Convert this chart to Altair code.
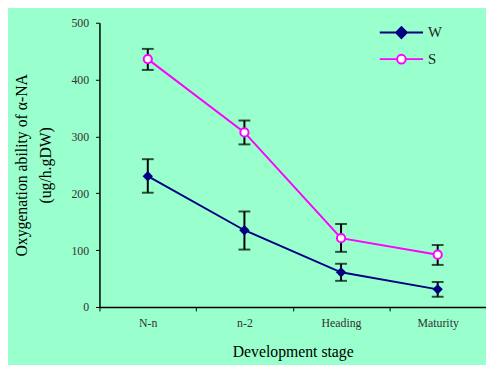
import altair as alt
import pandas as pd

stages = ["N-n", "n-2", "Heading", "Maturity"]
series_names = ["W", "S"]
w_mean = [230, 135, 61, 31]
w_low = [201, 101, 46, 18]
w_high = [260, 168, 76, 44]
s_mean = [436, 307, 121, 92]
s_low = [417, 286, 97, 74]
s_high = [454, 328, 146, 109]

rows = []
for i, st in enumerate(stages):
    rows.append({"stage": st, "series": "W", "mean": w_mean[i], "low": w_low[i], "high": w_high[i]})
    rows.append({"stage": st, "series": "S", "mean": s_mean[i], "low": s_low[i], "high": s_high[i]})
df = pd.DataFrame(rows)

NAVY = "#000080"
MAG = "#FF00FF"
FONT = "Liberation Serif"

xenc = alt.X(
    "stage:N",
    sort=stages,
    scale=alt.Scale(type="band", domain=stages, paddingInner=0, paddingOuter=0),
    axis=alt.Axis(
        title="Development stage",
        titleFont=FONT, titleFontSize=16, titleFontWeight="normal", titleColor="black",
        titlePadding=15,
        labelAngle=0, labelFont=FONT, labelFontSize=12, labelColor="#333333",
        labelPadding=7, tickBand="extent", tickSize=4, tickColor="black",
        domainColor="black", domainWidth=1.5, grid=False,
    ),
)
yscale = alt.Scale(domain=[0, 500], nice=False)
yaxis = alt.Axis(
    title=["Oxygenation ability of α-NA", "(ug/h.gDW)"],
    titleFont=FONT, titleFontSize=16, titleFontWeight="normal", titleColor="black",
    titleLineHeight=24, titlePadding=18,
    values=[0, 100, 200, 300, 400, 500],
    labelFont=FONT, labelFontSize=12, labelColor="#333333", labelPadding=7,
    tickSize=4, tickColor="black", domainColor="black", domainWidth=1.5, grid=False,
)

base = alt.Chart(df)

err = base.mark_rule(color="black", strokeWidth=2).encode(
    x=xenc, y=alt.Y("low:Q", scale=yscale, axis=yaxis), y2="high:Q"
)
cap_lo = base.mark_tick(color="black", size=12, thickness=2).encode(x=xenc, y="low:Q")
cap_hi = base.mark_tick(color="black", size=12, thickness=2).encode(x=xenc, y="high:Q")

line_w = base.transform_filter(alt.datum.series == "W").mark_line(color=NAVY, strokeWidth=2).encode(x=xenc, y="mean:Q")
line_s = base.transform_filter(alt.datum.series == "S").mark_line(color=MAG, strokeWidth=2).encode(x=xenc, y="mean:Q")
pt_w = base.transform_filter(alt.datum.series == "W").mark_point(
    shape="diamond", filled=True, color=NAVY, size=110, opacity=1
).encode(x=xenc, y="mean:Q")
pt_s = base.transform_filter(alt.datum.series == "S").mark_point(
    shape="circle", fill="white", stroke=MAG, strokeWidth=2, size=70, opacity=1
).encode(x=xenc, y="mean:Q")

diamond_path = "M-2,0L-0.5,0M0.5,0L2,0M-0.5,0L0,-0.5L0.5,0L0,0.5Z"
circle_path = "M-2,0L-0.4,0M0.4,0L2,0M-0.4,0A0.4,0.4 0 1,0 0.4,0A0.4,0.4 0 1,0 -0.4,0Z"

legend_layer = base.transform_filter("false").mark_point(strokeWidth=2, opacity=1, size=484).encode(
    x=xenc, y="mean:Q",
    shape=alt.Shape("series:N", scale=alt.Scale(domain=series_names, range=[diamond_path, circle_path]),
                    legend=alt.Legend(title=None, orient="none", legendX=295, legendY=-2,
                                      labelFont=FONT, labelFontSize=15, labelColor="#222222",
                                      labelOffset=15, symbolStrokeWidth=2, symbolSize=484,
                                      rowPadding=5, padding=0)),
    fill=alt.Fill("series:N", scale=alt.Scale(domain=series_names, range=[NAVY, "white"])),
    stroke=alt.Stroke("series:N", scale=alt.Scale(domain=series_names, range=[NAVY, MAG])),
)

chart = alt.layer(err, cap_lo, cap_hi, line_w, line_s, pt_w, pt_s, legend_layer).properties(
    width=393, height=289,
    autosize=alt.AutoSizeParams(type="none"),
    padding={"left": 93, "top": 12, "right": 0, "bottom": 56},
    background="#99FFCC",
).configure_view(stroke=None)

chart.save("out.html", embed_options={"renderer": "svg", "actions": False})
